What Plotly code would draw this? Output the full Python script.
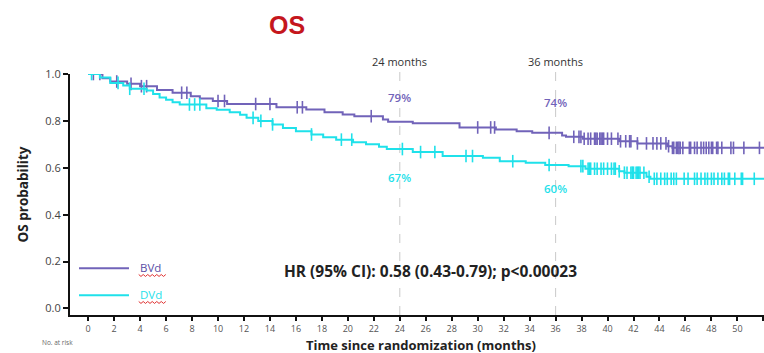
import numpy as np
import plotly.graph_objects as go

# Kaplan-Meier step data (months, survival probability after each event)
bvd_t = [0, 1.1, 1.7, 3.0, 4.0, 5.3, 6.5, 7.9, 8.6, 9.6, 10.7, 14.5, 16.8, 18.2, 19.6, 20.5,
         22.7, 23.1, 25.0, 28.6, 31.4, 33.0, 34.2, 36.5, 36.8, 38.1, 40.9, 42.3, 44.6, 45.0]
bvd_s = [1.0, 0.982, 0.968, 0.958, 0.948, 0.932, 0.92, 0.905, 0.895, 0.885, 0.872, 0.858,
         0.849, 0.837, 0.827, 0.82, 0.806, 0.796, 0.79, 0.772, 0.763, 0.756, 0.749, 0.738,
         0.732, 0.724, 0.713, 0.704, 0.692, 0.685]

dvd_t = [0, 0.9, 1.7, 2.7, 3.2, 4.5, 5.0, 5.5, 6.0, 6.5, 7.05, 9.1, 9.9, 10.9, 11.7, 12.2,
         13.1, 14.2, 15.0, 16.0, 17.2, 18.1, 19.1, 20.4, 21.4, 22.4, 23.0, 25.0, 27.3, 30.4,
         31.7, 33.7, 35.2, 37.0, 38.3, 40.9, 41.3, 43.0, 43.3]
dvd_s = [1.0, 0.985, 0.962, 0.951, 0.937, 0.93, 0.915, 0.90, 0.89, 0.88, 0.87, 0.854, 0.847,
         0.837, 0.826, 0.813, 0.80, 0.785, 0.77, 0.756, 0.742, 0.73, 0.72, 0.709, 0.70, 0.69,
         0.68, 0.667, 0.65, 0.643, 0.628, 0.621, 0.612, 0.607, 0.596, 0.585, 0.579, 0.562, 0.553]

# Censoring times (months)
bvd_cens = [0.4, 0.9, 2.2, 3.3, 4.1, 4.5, 7.2, 7.6, 10.0, 10.5, 12.9, 14.0, 16.1, 16.5, 21.8,
            30.0, 31.0, 31.3, 35.5, 37.4, 37.8, 37.95, 38.2, 38.5, 38.7, 39.0, 39.1, 39.2,
            39.4, 39.5, 39.6, 39.7, 40.0, 40.3, 40.8, 41.0, 41.4, 41.7, 41.8, 42.3, 43.0,
            43.5, 43.8, 44.1, 44.5, 44.7, 45.0, 45.1, 45.3, 45.4, 45.5, 45.6, 45.8, 46.3,
            46.4, 46.7, 46.9, 47.2, 47.4, 47.6, 47.8, 48.0, 48.1, 48.4, 48.5, 48.8, 49.5,
            49.7, 50.5, 51.7]
dvd_cens = [0.26, 2.3, 3.2, 4.3, 7.8, 8.2, 8.6, 12.7, 13.3, 14.2, 17.2, 19.5, 20.3, 24.2,
            25.6, 26.7, 29.1, 29.6, 32.7, 35.5, 37.95, 38.1, 38.5, 38.6, 38.7, 39.0, 39.2,
            39.5, 39.7, 40.0, 40.3, 40.5, 40.6, 40.9, 41.3, 41.5, 41.8, 41.9, 42.0, 42.2,
            42.3, 42.4, 42.5, 42.8, 43.2, 43.6, 43.8, 44.1, 44.4, 44.6, 44.9, 45.1, 45.3,
            45.9, 46.2, 46.7, 46.9, 47.2, 47.5, 47.7, 48.0, 48.2, 48.5, 48.8, 49.0, 49.3,
            49.4, 49.8, 50.3, 50.4, 51.3]

landmarks = [24, 36]
bvd_land = ["79%", "74%"]
dvd_land = ["67%", "60%"]
x_end = 52.05

PURPLE = "#7163b9"
CYAN = "#1fe1ea"


def step_value(times, surv, at):
    idx = np.searchsorted(np.asarray(times), np.asarray(at), side="right") - 1
    return np.asarray(surv)[idx]


fig = go.Figure()

for t, s, cens, col, name in [(bvd_t, bvd_s, bvd_cens, PURPLE, "BVd"),
                              (dvd_t, dvd_s, dvd_cens, CYAN, "DVd")]:
    fig.add_trace(go.Scatter(x=list(t) + [x_end], y=list(s) + [s[-1]], mode="lines",
                             line=dict(color=col, width=2, shape="hv"), name=name,
                             showlegend=False, hoverinfo="skip"))
    fig.add_trace(go.Scatter(x=cens, y=step_value(t, s, cens), mode="markers",
                             marker=dict(symbol="line-ns", size=9,
                                         line=dict(color=col, width=1.6)),
                             showlegend=False, hoverinfo="skip"))

# Landmark guide lines
for m in landmarks:
    fig.add_shape(type="line", xref="x", yref="paper", x0=m, x1=m, y0=0, y1=1.015,
                  line=dict(color="#c9c9c9", width=1, dash="dash"), layer="below")
    fig.add_annotation(x=m, xref="x", y=1.052, yref="paper", yanchor="middle",
                       text=f"{m} months", showarrow=False,
                       font=dict(size=11, color="#333333", family="Open Sans"))

for m, lab, s_t, s_s, yoff, col in [(landmarks[0], bvd_land[0], bvd_t, bvd_s, 0.104, PURPLE),
                                    (landmarks[1], bvd_land[1], bvd_t, bvd_s, 0.128, PURPLE),
                                    (landmarks[0], dvd_land[0], dvd_t, dvd_s, -0.122, CYAN),
                                    (landmarks[1], dvd_land[1], dvd_t, dvd_s, -0.102, CYAN)]:
    yv = float(step_value(s_t, s_s, [m - 0.01])[0])
    fig.add_annotation(x=m, y=yv + yoff, text=lab, showarrow=False, yanchor="middle",
                       font=dict(size=11.5, color=col, family="Open Sans", weight=600))

# Legend drawn by hand
for py, col, name, tcol in [(0.194, PURPLE, "BVd", "#5a4ea6"), (0.082, CYAN, "DVd", CYAN)]:
    fig.add_shape(type="line", xref="paper", yref="paper", x0=0.013, x1=0.085, y0=py, y1=py,
                  line=dict(color=col, width=2))
    fig.add_annotation(xref="paper", yref="paper", x=0.098, y=py + 0.004, text=name,
                       showarrow=False, xanchor="left", yanchor="middle",
                       font=dict(size=11.5, color=tcol, family="Open Sans"))
    # spell-check style squiggle under the label
    zx = np.linspace(0.099, 0.138, 13)
    zy = py - 0.026 + np.where(np.arange(13) % 2 == 0, 0.0, -0.008)
    path = "M " + " L ".join(f"{a:.4f},{b:.4f}" for a, b in zip(zx, zy))
    fig.add_shape(type="path", xref="paper", yref="paper", path=path,
                  line=dict(color="#e03030", width=1))

fig.add_annotation(xref="paper", yref="paper", x=0.519, y=0.181, yanchor="middle",
                   text="HR (95% CI): 0.58 (0.43-0.79); p<0.00023", showarrow=False,
                   font=dict(size=15.5, color="#222222", family="Open Sans", weight="bold"))

fig.add_annotation(xref="paper", yref="paper", x=0.506, y=-0.080, yanchor="top",
                   text="Time since randomization (months)", showarrow=False,
                   font=dict(size=13, color="#222222", family="Open Sans", weight="bold"))
fig.add_annotation(xref="paper", yref="paper", x=-0.043, y=-0.087, yanchor="top",
                   text="No. at risk", showarrow=False,
                   font=dict(size=6.5, color="#666666", family="Open Sans"))

fig.update_layout(
    width=764, height=353,
    margin=dict(l=70, r=0, t=74, b=38),
    paper_bgcolor="white", plot_bgcolor="white",
    title=dict(text="OS", x=287 / 764, xanchor="center", y=1 - 25 / 353, yanchor="middle",
               font=dict(size=25, color="#c5161d", family="Liberation Sans", weight="bold")),
    xaxis=dict(range=[-1.4, x_end], tickmode="array", tickvals=list(range(0, 53, 2)),
               showline=True, linecolor="#111111", linewidth=2, ticks="outside",
               ticklen=4, tickwidth=1.5, tickcolor="#111111", showgrid=False, zeroline=False,
               tickfont=dict(size=9, color="#555555", family="Open Sans")),
    yaxis=dict(range=[-0.028, 1.0], tickmode="array", tickvals=[0, 0.2, 0.4, 0.6, 0.8, 1.0],
               ticktext=["0.0", "0.2", "0.4", "0.6", "0.8", "1.0"],
               showline=True, linecolor="#111111", linewidth=2, ticks="outside",
               ticklen=5, tickwidth=1.5, tickcolor="#111111", showgrid=False, zeroline=False,
               tickfont=dict(size=11, color="#444444", family="Open Sans"),
               title=dict(text="<b>OS probability</b>", standoff=14,
                          font=dict(size=13.5, color="#222222", family="Open Sans"))),
)

fig.write_html("out.html")
